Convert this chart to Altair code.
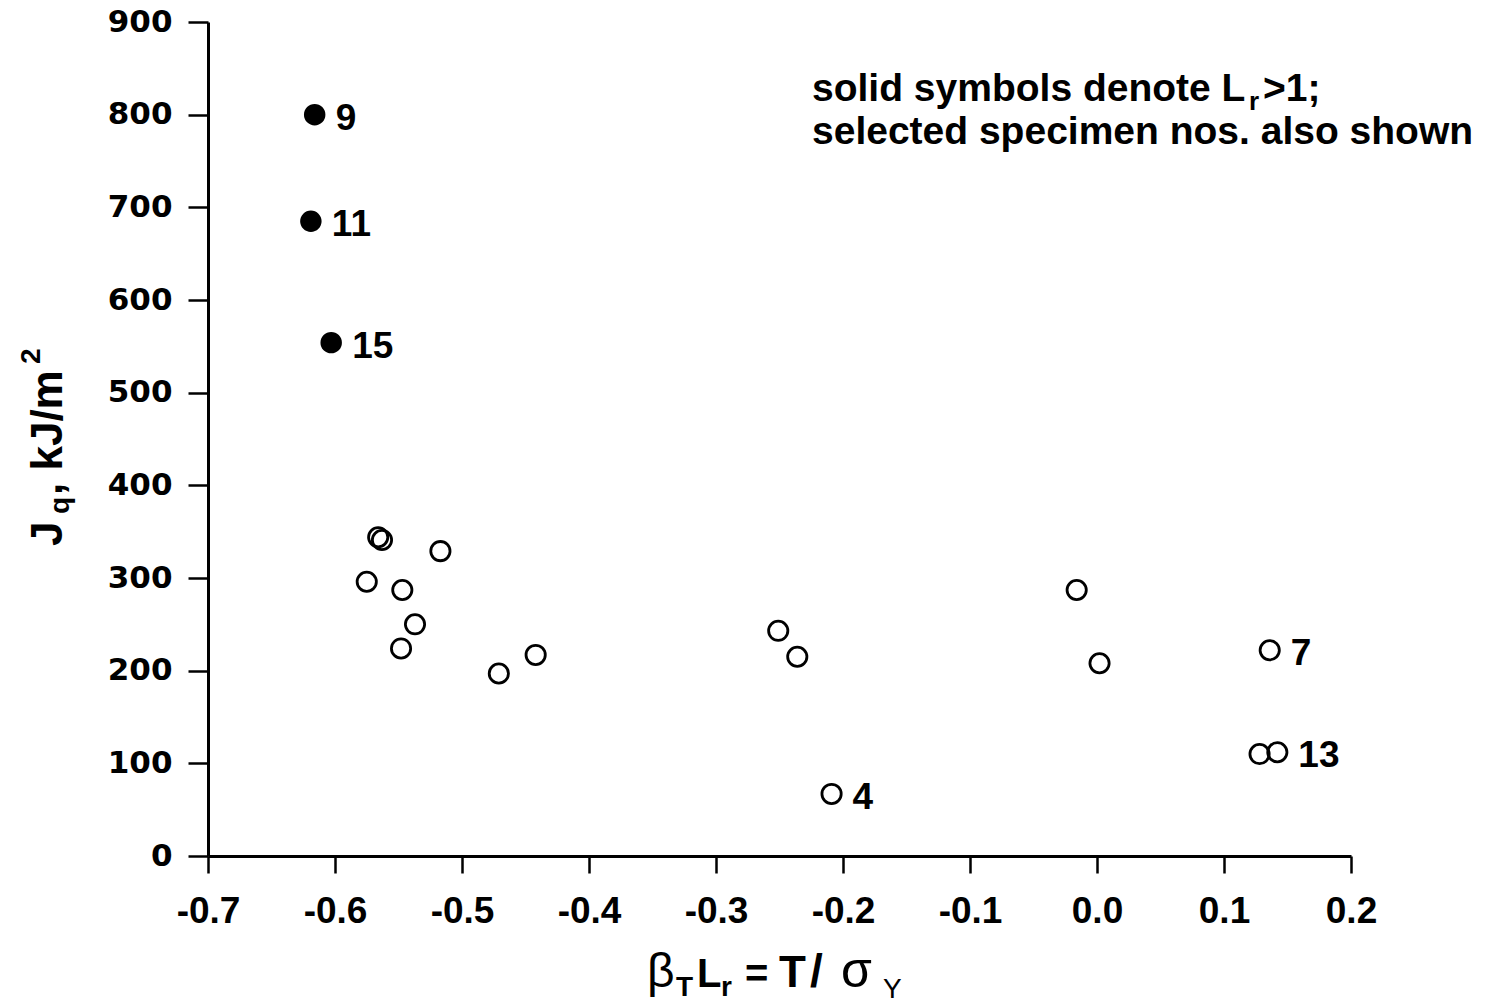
import altair as alt
import pandas as pd

# Specimen results: normalised T-stress vs. crack-initiation toughness
beta_lr = [-0.616, -0.619, -0.603, -0.566, -0.563, -0.517, -0.575, -0.547,
           -0.537, -0.548, -0.471, -0.442, -0.251, -0.236, -0.209, -0.016,
           0.002, 0.136, 0.128, 0.142]
jq = [800, 685, 554, 344, 341, 329, 296, 287,
      250, 224, 197, 217, 243, 215, 67, 287,
      208, 222, 110, 112]
lr_above_one = [True, True, True] + [False] * 17
specimen_no = ["9", "11", "15", "", "", "", "", "",
               "", "", "", "", "", "", "4", "",
               "", "7", "", "13"]

x_ticks = [-0.7, -0.6, -0.5, -0.4, -0.3, -0.2, -0.1, 0.0, 0.1, 0.2]
y_ticks = [0, 100, 200, 300, 400, 500, 600, 700, 800, 900]

df = pd.DataFrame({
    "beta_lr": beta_lr,
    "jq": jq,
    "solid": lr_above_one,
    "no": specimen_no,
})

SANS = "Liberation Sans"
W, H = 1143, 834

x_axis = alt.Axis(
    values=x_ticks, title=None, grid=False,
    labelExpr="datum.value < 0 ? '-' + format(-datum.value, '.1f') : format(datum.value, '.1f')",
    tickSize=17, tickWidth=2.5, tickColor="black",
    domainColor="black", domainWidth=3,
    labelFont=SANS, labelFontSize=37, labelFontWeight="bold", labelColor="black",
    labelPadding=20, labelFlush=False, labelOverlap=False,
)
y_axis = alt.Axis(
    values=y_ticks, title=None, grid=False, format="d",
    tickSize=20, tickWidth=2.5, tickColor="black",
    domainColor="black", domainWidth=3,
    labelFont="DejaVu Sans", labelFontSize=31, labelFontWeight="bold", labelColor="black",
    labelPadding=16, labelFlush=False, labelOverlap=False,
)

x_enc = alt.X("beta_lr:Q", scale=alt.Scale(domain=[-0.7, 0.2], nice=False, zero=False), axis=x_axis)
y_enc = alt.Y("jq:Q", scale=alt.Scale(domain=[0, 900], nice=False, zero=False), axis=y_axis)

base = alt.Chart(df)

open_pts = base.transform_filter("!datum.solid").mark_point(
    shape="circle", filled=False, size=370, strokeWidth=2.8, color="black", opacity=1
).encode(x=x_enc, y=y_enc)

solid_pts = base.transform_filter("datum.solid").mark_circle(
    size=460, color="black", opacity=1
).encode(x=x_enc, y=y_enc)

labels = base.transform_filter("datum.no != ''").mark_text(
    align="left", baseline="middle", dx=21, dy=4,
    font=SANS, fontSize=37, fontWeight="bold", color="black"
).encode(x=x_enc, y=y_enc, text="no:N")


def piece(text, px, py, size, weight="bold", angle=0, font=SANS):
    """A text fragment placed in plot-area pixels (for sub/superscripts)."""
    return alt.Chart(pd.DataFrame({"t": [text]})).mark_text(
        align="left", baseline="alphabetic", angle=angle,
        font=font, fontSize=size, fontWeight=weight, color="black"
    ).encode(x=alt.value(px), y=alt.value(py), text="t:N")


OX, OY = 208, 22  # plot-area origin on the page

# x-axis title: beta_T L_r = T / sigma_Y
x_title = [
    piece("β", 647 - OX, 987 - OY, 48, weight="normal"),
    piece("T", 676 - OX, 996 - OY, 28),
    piece("L", 697 - OX, 987 - OY, 40),
    piece("r", 721 - OX, 996 - OY, 28),
    piece("=", 745 - OX, 987 - OY, 40),
    piece("T", 779 - OX, 987 - OY, 44),
    piece("/", 810 - OX, 987 - OY, 46),
    piece("σ", 841 - OX, 987 - OY, 50, weight="normal"),
    piece("Y", 883 - OX, 998 - OY, 28, weight="normal"),
]

# y-axis title: J_q, kJ/m^2 (rotated)
y_title = [
    piece("J", 62 - OX, 546 - OY, 44, angle=270),
    piece("q", 69 - OX, 514 - OY, 28, angle=270),
    piece(", kJ/m", 62 - OX, 495 - OY, 44, angle=270),
    piece("2", 40 - OX, 364 - OY, 28, angle=270),
]

# annotation
note = [
    piece("solid symbols denote L", 812 - OX, 101 - OY, 39),
    piece("r", 1249 - OX, 110 - OY, 26),
    piece(">1;", 1263 - OX, 101 - OY, 39),
    piece("selected specimen nos. also shown", 812 - OX, 144 - OY, 39),
]

chart = alt.layer(open_pts, solid_pts, labels, *x_title, *y_title, *note).properties(
    width=W, height=H,
    autosize=alt.AutoSizeParams(type="none"),
    padding={"left": OX, "top": OY, "right": 1486 - OX - W, "bottom": 1003 - OY - H},
    background="white",
).configure_view(stroke=None)

chart.save("out.html", embed_options={"renderer": "svg", "actions": False})
